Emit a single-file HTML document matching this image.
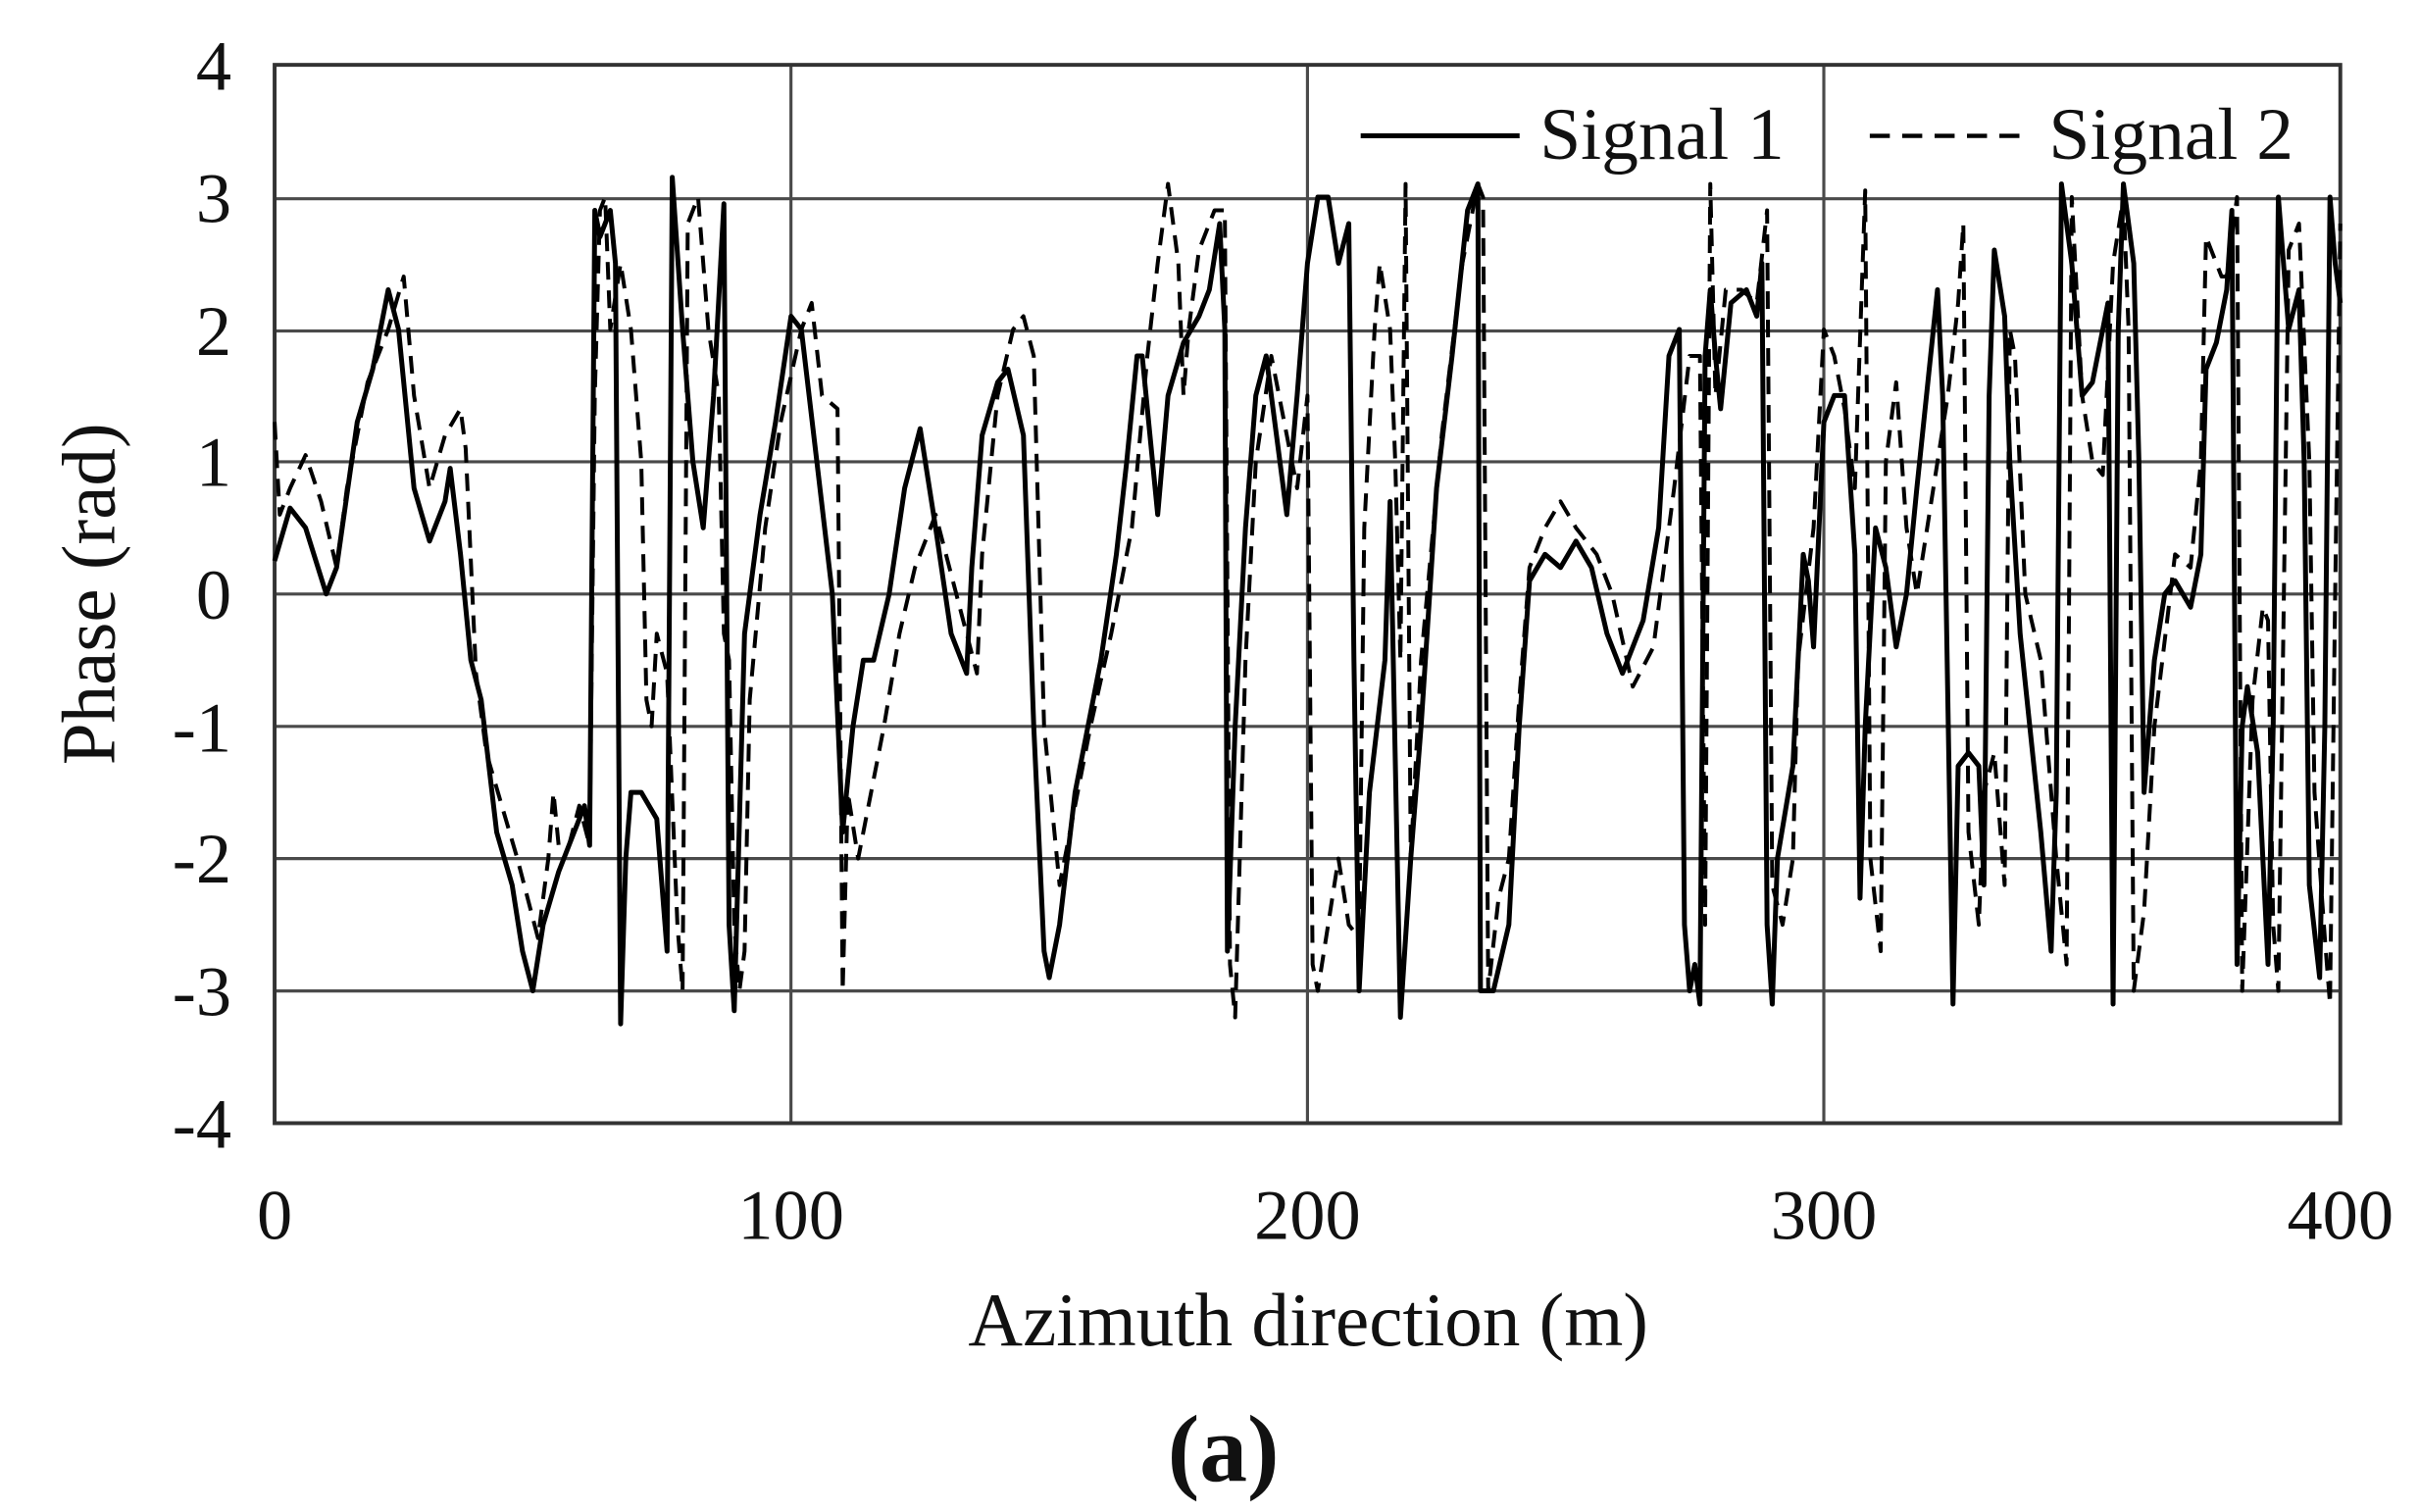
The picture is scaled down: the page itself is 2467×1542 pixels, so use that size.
<!DOCTYPE html>
<html><head><style>html,body{margin:0;padding:0;background:#fff}svg{display:block}</style></head>
<body>
<svg width="2467" height="1542" viewBox="0 0 1568 980" xmlns="http://www.w3.org/2000/svg" font-family="Liberation Serif, serif">
<rect width="1568" height="980" fill="#fff"/>
<g stroke="#4a4a4a" stroke-width="2">
<line x1="178" y1="128.8" x2="1517" y2="128.8"/><line x1="178" y1="214.5" x2="1517" y2="214.5"/>
<line x1="178" y1="299.3" x2="1517" y2="299.3"/><line x1="178" y1="385" x2="1517" y2="385"/>
<line x1="178" y1="470.8" x2="1517" y2="470.8"/><line x1="178" y1="556.5" x2="1517" y2="556.5"/>
<line x1="178" y1="642.3" x2="1517" y2="642.3"/>
<line x1="512.7" y1="42" x2="512.7" y2="728"/><line x1="847.5" y1="42" x2="847.5" y2="728"/><line x1="1182.2" y1="42" x2="1182.2" y2="728"/>
</g>
<rect x="870" y="62" width="310" height="52" fill="#fff"/>
<rect x="1186" y="62" width="320" height="52" fill="#fff"/>
<rect x="178" y="42" width="1339" height="686" fill="none" stroke="#333" stroke-width="2.5"/>
<g transform="translate(178,385) scale(3.3475,-85.75)" fill="none" stroke="#000" stroke-linejoin="round">
<polyline vector-effect="non-scaling-stroke" stroke-width="5" points="0,0.25 3,0.65 6,0.5 10,0 12,0.2 16,1.3 19,1.7 22,2.3 24,2.0 27,0.8 30,0.4 33,0.7 34,0.95 36,0.3 38,-0.5 40,-0.8 43,-1.8 46,-2.2 48,-2.7 50,-3.0 52,-2.5 55,-2.1 58,-1.8 60,-1.6 61,-1.9 62,2.9 63,2.7 65,2.9 66,2.5 67,-3.25 68,-2.0 69,-1.5 71,-1.5 74,-1.7 76,-2.7 77,3.15 79,2.0 81,1.0 83,0.5 85,1.5 87,2.95 88,-2.5 89,-3.15 91,-0.3 94,0.6 97,1.3 100,2.1 102,2.0 105,1.0 108,0 110,-1.8 112,-1.0 114,-0.5 116,-0.5 119,0 122,0.8 125,1.25 128,0.5 131,-0.3 134,-0.6 135,0.2 137,1.2 140,1.6 142,1.7 145,1.2 147,-1.0 149,-2.7 150,-2.9 152,-2.5 155,-1.5 160,-0.5 163,0.3 165,1.0 167,1.8 168,1.8 170,1.0 171,0.6 173,1.5 176,1.9 179,2.1 181,2.3 183,2.8 184,2.0 184.5,-2.7 186,-1.0 188,0.5 190,1.5 192,1.8 194,1.2 196,0.6 198,1.5 200,2.5 202,3.0 204,3.0 206,2.5 208,2.8 209,-0.5 210,-3.0 212,-1.5 215,-0.5 216,0.7 218,-3.2 220,-2.0 222,-1.0 225,0.8 228,1.8 231,2.9 233,3.1 233.5,-3.0 236,-3.0 239,-2.5 241,-1.0 243,0.1 246,0.3 249,0.2 252,0.4 255,0.2 258,-0.3 261,-0.6 265,-0.2 268,0.5 270,1.8 272,2.0 273,-2.5 274,-3.0 275,-2.8 276,-3.1 277,1.8 278,2.3 279,1.8 280,1.4 282,2.2 285,2.3 287,2.1 288,2.5 289,-2.5 290,-3.1 291,-2.0 294,-1.3 296,0.3 297,0.1 298,-0.4 300,1.3 302,1.5 304,1.5 306,0.3 307,-2.3 308,-1.0 310,0.5 312,0.2 314,-0.4 316,0 318,0.8 322,2.3 323,1.5 325,-3.1 326,-1.3 328,-1.2 330,-1.3 331,-2.2 332,1.5 333,2.6 335,2.1 336,1.0 338,-0.3 342,-1.8 344,-2.7 345,-1.5 346,3.1 348,2.5 350,1.5 352,1.6 355,2.2 356,-3.1 357,2.0 358,3.1 360,2.5 361,1.0 362,-1.5 364,-0.5 366,0 368,0.1 371,-0.1 373,0.3 374,1.7 376,1.9 378,2.3 379,2.9 380,-2.8 381,-1.0 382,-0.7 384,-1.2 386,-2.8 387,-1.0 388,3.0 390,2.0 392,2.3 393,1.0 394,-2.2 396,-2.9 397,-1.0 398,3.0 399,2.5 400,2.2"/>
<polyline vector-effect="non-scaling-stroke" stroke-width="4" stroke-dasharray="18,11" points="0,1.3 1,0.6 3,0.8 6,1.05 9,0.7 12,0.2 14,0.8 18,1.6 22,2.0 25,2.4 27,1.5 30,0.8 33,1.2 36,1.4 37,1.1 39,-0.6 41,-1.2 44,-1.6 47,-2.0 49,-2.3 51,-2.6 53,-2.0 54,-1.5 55,-1.9 57,-1.9 59,-1.6 61,-1.9 62,1.5 63,2.9 64,3.0 65,2.0 67,2.5 69,2.0 71,1.0 72,-0.8 73,-1.0 74,-0.3 76,-0.6 78,-2.5 79,-3.0 80,2.8 82,3.0 84,2.0 86,1.5 87,-0.3 88,-0.5 89,-2.5 90,-3.0 91,-2.7 92,-0.8 95,0.5 98,1.3 102,2.0 104,2.2 106,1.5 109,1.4 110,-3.0 111,-1.5 113,-2.0 115,-1.6 118,-1.0 121,-0.3 124,0.2 128,0.6 132,0.0 136,-0.6 137,0.3 140,1.5 143,2.0 145,2.1 147,1.8 149,-1.0 152,-2.2 154,-1.8 158,-1.0 162,-0.3 166,0.5 169,1.8 171,2.5 173,3.1 175,2.5 176,1.5 177,2.0 179,2.6 182,2.9 184,2.9 185,-2.8 186,-3.2 188,-0.5 190,1.0 193,1.8 196,1.2 198,0.8 200,1.5 201,-2.8 202,-3.0 204,-2.5 206,-2.0 208,-2.5 210,-2.6 211,0.5 213,2.0 214,2.5 216,2.0 217,1.0 218,-0.5 219,3.1 220,-2.0 222,-0.5 226,1.2 230,2.5 233,3.1 234,3.0 235,-3.0 237,-2.3 239,-2.0 241,-0.8 243,0.2 246,0.5 249,0.7 252,0.5 256,0.3 259,0 263,-0.7 267,-0.4 271,0.8 274,1.8 276,1.8 277,-2.5 278,3.1 279,1.5 281,2.3 284,2.3 287,2.2 289,2.9 290,-2.2 292,-2.5 294,-2.0 295,-0.5 298,0.5 300,2.0 302,1.8 304,1.4 306,0.8 308,3.05 309,-2.0 311,-2.7 312,1.0 314,1.6 316,0.5 318,0.0 320,0.5 324,1.5 326,2.2 327,2.8 328,-1.8 330,-2.5 331,-1.5 333,-1.2 335,-2.2 336,2.0 337,1.8 339,0.0 342,-0.5 345,-2.0 347,-2.8 348,3.0 350,1.5 352,1.0 354,0.9 356,2.5 358,3.0 359,2.0 360,-3.0 362,-2.4 364,-1.0 368,0.3 371,0.2 373,1.0 374,2.7 377,2.4 378,2.4 380,3.0 381,-3.0 383,-0.8 385,-0.1 386,-0.2 387,-2.5 388,-3.0 390,2.6 392,2.8 394,1.0 395,-1.5 397,-2.6 398,-3.1 399,0 400,2.8"/>
</g>
<g font-size="48" fill="#111">
<line x1="882" y1="88" x2="985" y2="88" stroke="#000" stroke-width="3.2"/>
<text x="998" y="103">Signal 1</text>
<line x1="1212" y1="88" x2="1312" y2="88" stroke="#000" stroke-width="2.8" stroke-dasharray="13,8"/>
<text x="1328" y="103">Signal 2</text>
</g>
<g font-size="46" fill="#111" text-anchor="end">
<text x="150" y="58">4</text><text x="150" y="144">3</text><text x="150" y="230">2</text>
<text x="150" y="315">1</text><text x="150" y="401">0</text><text x="150" y="487">-1</text>
<text x="150" y="572">-2</text><text x="150" y="658">-3</text><text x="150" y="744">-4</text>
</g>
<g font-size="46" fill="#111" text-anchor="middle">
<text x="178" y="803">0</text><text x="512.7" y="803">100</text><text x="847.5" y="803">200</text>
<text x="1182.2" y="803">300</text><text x="1517" y="803">400</text>
<text x="848" y="872" font-size="49">Azimuth direction (m)</text>
<text transform="translate(74,385) rotate(-90)" font-size="49">Phase (rad)</text>
<text x="793" y="960" font-size="62" font-weight="bold">(a)</text>
</g>
</svg>
</body></html>
